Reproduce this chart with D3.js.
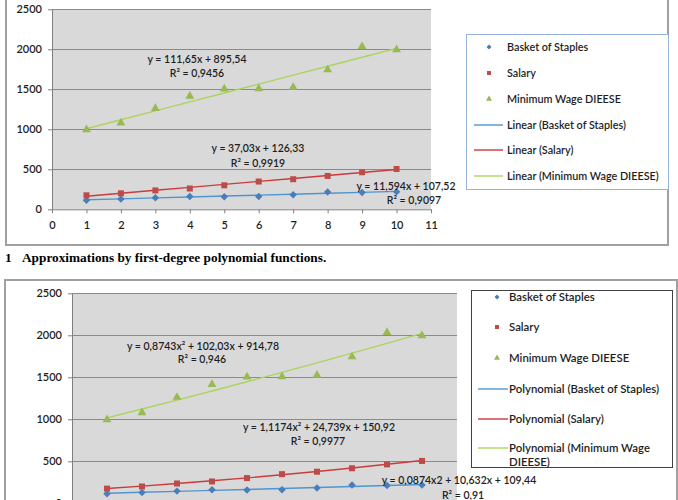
<!DOCTYPE html>
<meta charset="utf-8">
<script src="https://d3js.org/d3.v7.min.js"></script>
<style>
body { margin: 0; background: #fff; }
svg { display: block; }
.axis text { font: 600 11px Lato, sans-serif; fill: #1e1e1e; }
.axis path, .axis line { stroke: #7f7f7f; }
.grid { stroke: #8a8a8a; stroke-width: 1; }
.eq { font: 600 10.5px Lato, sans-serif; fill: #1e1e1e; }
.leg { font-family: Lato, sans-serif; font-weight: 600; fill: #1e1e1e; }
.caption { font: bold 13.3px "Liberation Serif", serif; fill: #000; }
</style>
<body>
<script>

// shared data (both charts show the same series)
var xVals = [1, 2, 3, 4, 5, 6, 7, 8, 9, 10];
var basket = [114, 128, 145, 160, 157, 160, 183, 217, 211, 218];
var salary = [175, 200, 236, 260, 300, 347, 376, 417, 463, 504];
var minWage = [995, 1080, 1262, 1415, 1505, 1508, 1525, 1744, 2035, 1995];
var seriesNames = ["Basket of Staples", "Salary", "Minimum Wage DIEESE"];

var xTicks = [0, 1, 2, 3, 4, 5, 6, 7, 8, 9, 10, 11];
var yTicks = [0, 500, 1000, 1500, 2000, 2500];

// trendline coefficients as printed on the charts (c0 + c1*x + c2*x^2)
var linearFits = [[107.52, 11.594, 0], [126.33, 37.03, 0], [895.54, 111.65, 0]];
var polyFits = [[109.44, 10.632, 0.0874], [150.92, 24.739, 1.1174], [914.78, 102.03, 0.8743]];

var linearLabels = [["y = 11,594x + 107,52", "R\u00b2 = 0,9097"],
                    ["y = 37,03x + 126,33", "R\u00b2 = 0,9919"],
                    ["y = 111,65x + 895,54", "R\u00b2 = 0,9456"]];
var polyLabels = [["y = 0,0874x2 + 10,632x + 109,44", "R\u00b2 = 0,91"],
                  ["y = 1,1174x\u00b2 + 24,739x + 150,92", "R\u00b2 = 0,9977"],
                  ["y = 0,8743x\u00b2 + 102,03x + 914,78", "R\u00b2 = 0,946"]];

var linearLegend = ["Linear (Basket of Staples)", "Linear (Salary)", "Linear (Minimum Wage DIEESE)"];
var polyLegend = ["Polynomial (Basket of Staples)", "Polynomial (Salary)", ["Polynomial (Minimum Wage", "DIEESE)"]];

var captionNum = "1";
var captionText = "Approximations by first-degree polynomial functions.";

var series = [basket, salary, minWage];
var markerColor = ["#4a7ebb", "#be4b48", "#98b954"];
var lineColor = ["#4f95d0", "#cc3a3a", "#aad45e"];
var markerType = [d3.symbolSquare, d3.symbolSquare, d3.symbolTriangle];
var markerRot = [45, 0, 0];
var markerSize = [28, 36, 34];

var svg = d3.select("body").append("svg")
  .attr("width", 678)
  .attr("height", 500);

function drawChart(o) {
  var g = svg.append("g");

  // outer chart frame
  g.append("rect")
    .attr("x", o.frame[0]).attr("y", o.frame[1])
    .attr("width", o.frame[2] - o.frame[0]).attr("height", o.frame[3] - o.frame[1])
    .attr("fill", "#fff").attr("stroke", "#a0a0a0").attr("stroke-width", 2);

  var x = d3.scaleLinear().domain([0, 11]).range([o.plot[0], o.plot[2]]);
  var y = d3.scaleLinear().domain([0, 2500]).range([o.plot[3], o.plot[1]]);

  g.append("rect")
    .attr("x", x(0)).attr("y", y(2500))
    .attr("width", x(11) - x(0)).attr("height", y(0) - y(2500))
    .attr("fill", "#d9d9d9");

  g.selectAll(".grid").data(yTicks.slice(1)).enter().append("line")
    .attr("class", "grid")
    .attr("x1", x(0)).attr("x2", x(11))
    .attr("y1", function(d) { return Math.round(y(d)) + 0.5; })
    .attr("y2", function(d) { return Math.round(y(d)) + 0.5; });

  g.append("g")
    .attr("class", "axis")
    .attr("transform", "translate(" + x(0) + ",0)")
    .call(d3.axisLeft(y).tickValues(yTicks).tickSize(4).tickSizeOuter(0).tickPadding(6)
      .tickFormat(d3.format("d")));

  // second chart's x labels fall below the page, so only draw the line + ticks there
  g.append("g")
    .attr("class", "axis")
    .attr("transform", "translate(0," + y(0) + ")")
    .call(d3.axisBottom(x).tickValues(xTicks).tickSize(4).tickSizeOuter(0).tickPadding(8)
      .tickFormat(o.xLabels ? d3.format("d") : function() { return ""; }));

  // trendlines
  var line = d3.line()
    .x(function(d) { return x(d[0]); })
    .y(function(d) { return y(d[1]); });

  o.fits.forEach(function(c, i) {
    var pts = xVals.map(function(v) { return [v, c[0] + c[1] * v + c[2] * v * v]; });
    g.append("path")
      .attr("d", line(pts))
      .attr("fill", "none")
      .attr("stroke", lineColor[i])
      .attr("stroke-width", 1.4);
  });

  // markers
  series.forEach(function(s, i) {
    g.selectAll(".m" + i).data(s).enter().append("path")
      .attr("class", "m" + i)
      .attr("d", d3.symbol().type(markerType[i]).size(markerSize[i]))
      .attr("transform", function(d, j) {
        return "translate(" + x(xVals[j]) + "," + y(d) + ") rotate(" + markerRot[i] + ")";
      })
      .attr("fill", markerColor[i]);
  });

  // equation labels
  o.labels.forEach(function(lab, i) {
    var p = o.labelPos[i];
    g.append("text").attr("class", "eq").attr("text-anchor", "middle")
      .attr("x", p[0]).attr("y", p[1]).text(lab[0]);
    g.append("text").attr("class", "eq").attr("text-anchor", "middle")
      .attr("x", p[2]).attr("y", p[3]).text(lab[1]);
  });

  // legend
  var L = o.legend;
  g.append("rect")
    .attr("x", L.box[0] + 0.5).attr("y", L.box[1] + 0.5)
    .attr("width", L.box[2] - L.box[0]).attr("height", L.box[3] - L.box[1])
    .attr("fill", "#fff").attr("stroke", L.stroke).attr("stroke-width", 1);

  var entries = seriesNames.concat(o.legendLines);
  entries.forEach(function(name, k) {
    var ry = L.rows[k];
    var i = k % 3;
    if (k < 3) {
      g.append("path")
        .attr("d", d3.symbol().type(markerType[i]).size(markerSize[i] * 0.45))
        .attr("transform", "translate(" + L.mx + "," + ry + ") rotate(" + markerRot[i] + ")")
        .attr("fill", markerColor[i]);
    } else {
      g.append("line")
        .attr("x1", L.lx[0]).attr("x2", L.lx[1])
        .attr("y1", ry).attr("y2", ry)
        .attr("stroke", lineColor[i]).attr("stroke-width", 1.4);
    }
    var lines = Array.isArray(name) ? name : [name];
    lines.forEach(function(t, n) {
      g.append("text").attr("class", "leg")
        .attr("x", L.tx).attr("y", ry + n * L.wrap)
        .attr("dy", "0.35em")
        .style("font-size", L.fs + "px")
        .text(t);
    });
  });
}

drawChart({
  frame: [6, -5, 668, 245],
  plot: [52, 9.3, 431, 209.3],
  xLabels: true,
  fits: linearFits,
  labels: linearLabels,
  labelPos: [[406, 190, 414, 204], [258, 152, 258, 167], [197, 63, 197, 77]],
  legendLines: linearLegend,
  legend: { box: [466, 34, 668, 189], stroke: "#95b3d7", rows: [47, 73, 99, 125, 150, 176],
            mx: 489, lx: [474, 503], tx: 507, wrap: 0, fs: 10.8 }
});

drawChart({
  frame: [5, 280, 677, 520],
  plot: [72, 293.3, 457, 503.3],
  xLabels: false,
  fits: polyFits,
  labels: polyLabels,
  labelPos: [[459, 484, 463, 499], [319, 431, 318, 444.5], [203, 350, 202, 363]],
  legendLines: polyLegend,
  legend: { box: [471, 290, 672, 467], stroke: "#404040", rows: [297, 327, 358, 389, 419, 448],
            mx: 497, lx: [478, 508], tx: 509, wrap: 14.5, fs: 11.4 }
});

svg.append("text").attr("class", "caption").attr("x", 5).attr("y", 262).text(captionNum);
svg.append("text").attr("class", "caption").attr("x", 22).attr("y", 262).text(captionText);

</script>
</body>
